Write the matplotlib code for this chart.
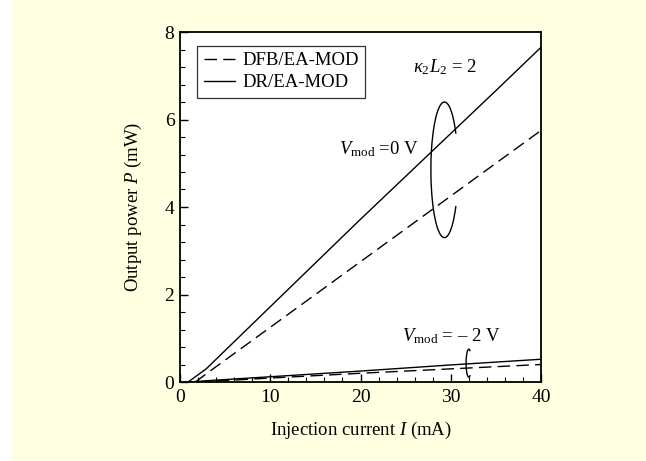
import matplotlib
matplotlib.use("Agg")
import matplotlib.pyplot as plt
from matplotlib.patches import Arc, Rectangle
from matplotlib.ticker import MultipleLocator

plt.rcParams["font.family"] = ["Liberation Serif", "DejaVu Serif"]
plt.rcParams["mathtext.fontset"] = "custom"
plt.rcParams["mathtext.rm"] = "Liberation Serif"
plt.rcParams["mathtext.it"] = "Liberation Serif:italic"

# data: current (mA) -> power (mW)
dr_0v_i = [0.9, 2.9, 5, 10, 15, 20, 25, 30, 35, 40]
dr_0v_p = [0.0, 0.30, 0.72, 1.72, 2.72, 3.72, 4.70, 5.68, 6.66, 7.65]
dfb_0v_i = [1.7, 3.0, 10, 20, 30, 40]
dfb_0v_p = [0.0, 0.2, 1.25, 2.75, 4.25, 5.75]
dr_2v_i = [1.0, 3.0, 10, 20, 30, 40]
dr_2v_p = [0.0, 0.03, 0.12, 0.25, 0.39, 0.52]
dfb_2v_i = [2.0, 10, 20, 30, 40]
dfb_2v_p = [0.0, 0.09, 0.2, 0.3, 0.40]

x_ticks = [0, 10, 20, 30, 40]
y_ticks = [0, 2, 4, 6, 8]


def main():
    fig = plt.figure(figsize=(6.46, 4.61), dpi=100, facecolor="#FFFFE1")
    fig.patches.append(Rectangle((0, 0), 12 / 646, 1, transform=fig.transFigure,
                                 facecolor="white", edgecolor="none"))
    ax = fig.add_axes([180 / 646, 79 / 461, 361 / 646, 350 / 461])
    ax.set_facecolor("white")

    ax.plot(dfb_0v_i, dfb_0v_p, color="black", lw=1.0, dashes=(9, 4.5),
            label="DFB/EA-MOD")
    ax.plot(dr_0v_i, dr_0v_p, color="black", lw=1.0, label="DR/EA-MOD")
    ax.plot(dfb_2v_i, dfb_2v_p, color="black", lw=1.0, dashes=(9, 4.5))
    ax.plot(dr_2v_i, dr_2v_p, color="black", lw=1.0)

    # group markers
    ax.add_patch(Arc((29.3, 4.85), 3.0, 3.1, theta1=33, theta2=327,
                     color="black", lw=1.0))
    ax.add_patch(Arc((32.0, 0.43), 0.6, 0.64, theta1=60, theta2=300,
                     color="black", lw=1.0))

    ax.text(25.8, 7.2, r"$\kappa_2L_2$ = 2", fontsize=13.5, va="center")
    ax.text(17.6, 5.33, r"$V_{\mathrm{mod}}$ =0 V", fontsize=13.5,
            va="center")
    ax.text(24.6, 1.05, r"$V_{\mathrm{mod}}$ = – 2 V", fontsize=13.5,
            va="center")

    ax.set_xlim(0, 40)
    ax.set_ylim(0, 8)
    ax.set_xticks(x_ticks)
    ax.set_yticks(y_ticks)
    ax.xaxis.set_minor_locator(MultipleLocator(2))
    ax.yaxis.set_minor_locator(MultipleLocator(0.4))
    ax.tick_params(which="both", direction="in", top=False, right=False,
                   labelsize=14)
    ax.tick_params(axis="x", pad=5)
    ax.tick_params(axis="y", pad=4)
    ax.tick_params(which="major", length=6, width=1.0)
    ax.tick_params(which="minor", length=3.3, width=0.8)
    for s in ax.spines.values():
        s.set_linewidth(1.3)

    ax.set_xlabel("Injection current $I$ (mA)", fontsize=13.5, labelpad=10)
    ax.set_ylabel("Output power $P$ (mW)", fontsize=13.5, labelpad=15)

    leg = ax.legend(loc="upper left", bbox_to_anchor=(0.047, 0.961),
                    fontsize=13.5, fancybox=False, edgecolor="black",
                    handlelength=1.7, borderpad=0.35, labelspacing=0.25,
                    handletextpad=0.35, borderaxespad=0)
    leg.get_frame().set_linewidth(0.9)

    fig.savefig("out.png", dpi=100, facecolor=fig.get_facecolor())
    return 0


if __name__ == "__main__":
    main()
